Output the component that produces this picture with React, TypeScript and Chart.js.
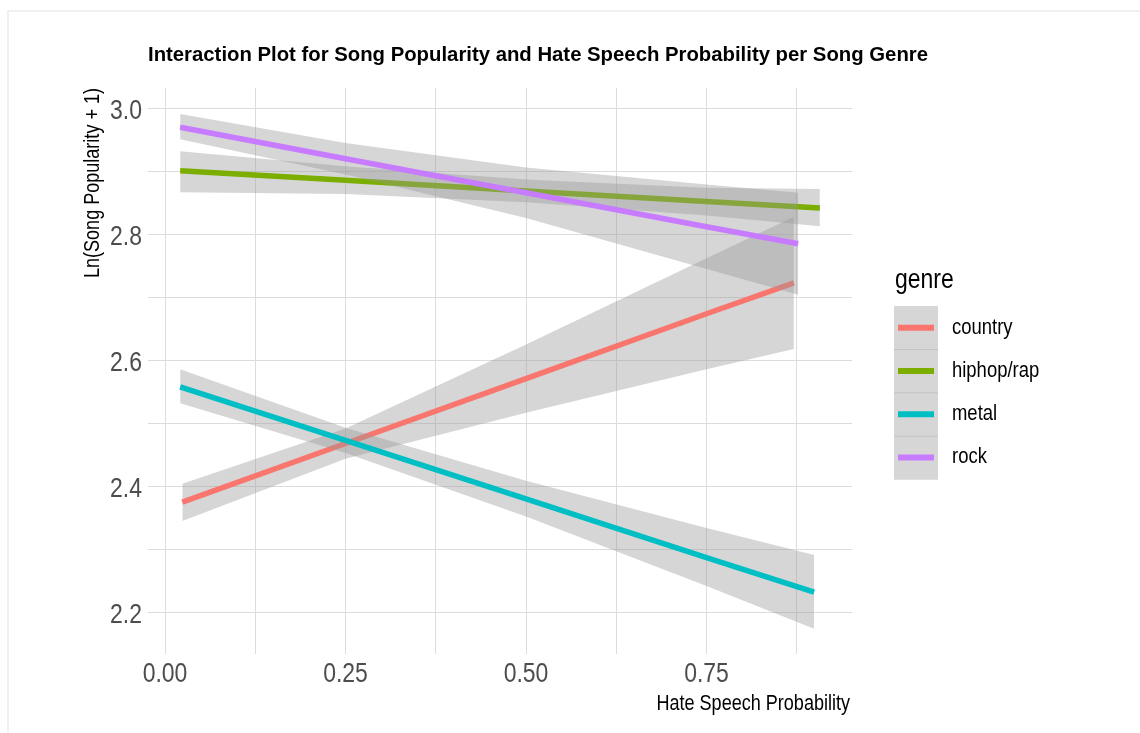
import React, { useEffect, useRef } from 'react';
import { Chart, registerables } from 'chart.js';

Chart.register(...registerables);

// ---------- data ----------
const genres = ['country', 'hiphop/rap', 'metal', 'rock'];
const genreColors = ['#F8766D', '#7CAE00', '#00BFC4', '#C77CFF'];

const countryX = [0.024, 0.25, 0.5, 0.75, 0.871];
const countryFit = [2.376, 2.469, 2.572, 2.675, 2.724];
const countryLow = [2.346, 2.445, 2.518, 2.587, 2.619];
const countryHigh = [2.405, 2.493, 2.626, 2.763, 2.829];

const hiphopX = [0.021, 0.25, 0.5, 0.75, 0.907];
const hiphopFit = [2.902, 2.887, 2.87, 2.853, 2.843];
const hiphopLow = [2.868, 2.865, 2.852, 2.831, 2.814];
const hiphopHigh = [2.933, 2.909, 2.888, 2.875, 2.873];

const metalX = [0.021, 0.25, 0.5, 0.75, 0.899];
const metalFit = [2.559, 2.474, 2.381, 2.288, 2.233];
const metalLow = [2.533, 2.454, 2.353, 2.243, 2.175];
const metalHigh = [2.587, 2.494, 2.41, 2.335, 2.292];

const rockX = [0.021, 0.25, 0.5, 0.75, 0.877];
const rockFit = [2.971, 2.921, 2.867, 2.813, 2.786];
const rockLow = [2.952, 2.896, 2.827, 2.746, 2.705];
const rockHigh = [2.992, 2.946, 2.907, 2.88, 2.867];

const xTicks = [0, 0.125, 0.25, 0.375, 0.5, 0.625, 0.75, 0.875];
const xTickLabels = ['0.00', '', '0.25', '', '0.50', '', '0.75', ''];
const yTicks = [2.2, 2.3, 2.4, 2.5, 2.6, 2.7, 2.8, 2.9, 3.0];
const yTickLabels = ['2.2', '', '2.4', '', '2.6', '', '2.8', '', '3.0'];

const chartTitle = 'Interaction Plot for Song Popularity and Hate Speech Probability per Song Genre';
const xTitle = 'Hate Speech Probability';
const yTitle = 'Ln(Song Popularity + 1)';
const legendTitle = 'genre';

// ---------- styling ----------
const SANS = '"Liberation Sans", Arial, Helvetica, sans-serif';
const NARROW_X = 0.82; // horizontal squeeze (narrow-font look)
const RIBBON = 'rgba(153,153,153,0.4)';
const GRID = '#DCDCDC';

const series = [
  { x: countryX, fit: countryFit, low: countryLow, high: countryHigh },
  { x: hiphopX, fit: hiphopFit, low: hiphopLow, high: hiphopHigh },
  { x: metalX, fit: metalFit, low: metalLow, high: metalHigh },
  { x: rockX, fit: rockFit, low: rockLow, high: rockHigh },
];

const pts = (xs: number[], ys: number[]) => xs.map((x, i) => ({ x, y: ys[i] }));

function drawText(
  ctx: CanvasRenderingContext2D,
  text: string,
  x: number,
  y: number,
  font: string,
  color: string,
  align: CanvasTextAlign,
  sx: number = NARROW_X,
  rotation = 0,
) {
  ctx.save();
  ctx.translate(x, y);
  if (rotation) ctx.rotate(rotation);
  ctx.scale(sx, 1);
  ctx.font = font;
  ctx.fillStyle = color;
  ctx.textAlign = align;
  ctx.textBaseline = 'alphabetic';
  ctx.fillText(text, 0, 0);
  ctx.restore();
}

const decorPlugin = {
  id: 'ggDecor',
  afterDraw(chart: any) {
    const ctx: CanvasRenderingContext2D = chart.ctx;
    const xs = chart.scales.x;
    const ys = chart.scales.y;
    const area = chart.chartArea;

    // tick labels
    const tickFont = `28px ${SANS}`;
    xTicks.forEach((v, i) => {
      if (!xTickLabels[i]) return;
      drawText(ctx, xTickLabels[i], xs.getPixelForValue(v), 682, tickFont, '#4D4D4D', 'center');
    });
    yTicks.forEach((v, i) => {
      if (!yTickLabels[i]) return;
      drawText(ctx, yTickLabels[i], area.left - 6, ys.getPixelForValue(v) + 10, tickFont, '#4D4D4D', 'right');
    });

    // axis titles
    drawText(ctx, xTitle, area.right - 2, 710, `22px ${SANS}`, '#000', 'right');
    drawText(ctx, yTitle, 99, area.top, `22px ${SANS}`, '#000', 'right', NARROW_X, -Math.PI / 2);

    // title (fit to its width in the reference layout)
    ctx.save();
    ctx.font = `bold 21px ${SANS}`;
    const w = ctx.measureText(chartTitle).width;
    ctx.restore();
    const titleSx = w > 0 ? 780 / w : NARROW_X;
    drawText(ctx, chartTitle, area.left, 61, `bold 21px ${SANS}`, '#000', 'left', titleSx);

    // legend
    drawText(ctx, legendTitle, 895, 288, `28px ${SANS}`, '#000', 'left');
    const keyX = 894;
    const keyW = 44;
    const keyTop = 306;
    const keyH = 43.25;
    ctx.save();
    genres.forEach((g, i) => {
      const top = keyTop + i * keyH;
      ctx.fillStyle = RIBBON;
      ctx.fillRect(keyX, top, keyW, keyH + 0.75);
      const cy = top + keyH / 2;
      ctx.strokeStyle = genreColors[i];
      ctx.lineWidth = 6;
      ctx.lineCap = 'butt';
      ctx.beginPath();
      ctx.moveTo(keyX + 4, cy);
      ctx.lineTo(keyX + keyW - 4, cy);
      ctx.stroke();
      drawText(ctx, g, 952, cy + 6, `22.5px ${SANS}`, '#000', 'left');
    });
    ctx.restore();
  },
};

export default function App() {
  const canvasRef = useRef<HTMLCanvasElement | null>(null);

  useEffect(() => {
    if (!canvasRef.current) return;
    const datasets: any[] = [];
    series.forEach((s, k) => {
      datasets.push({
        label: genres[k] + ' upper',
        data: pts(s.x, s.high),
        borderWidth: 0,
        pointRadius: 0,
        fill: false,
        order: 100 - 10 * k,
      });
      datasets.push({
        label: genres[k] + ' lower',
        data: pts(s.x, s.low),
        borderWidth: 0,
        pointRadius: 0,
        backgroundColor: RIBBON,
        fill: '-1',
        order: 99 - 10 * k,
      });
      datasets.push({
        label: genres[k],
        data: pts(s.x, s.fit),
        borderColor: genreColors[k],
        borderWidth: 5.5,
        pointRadius: 0,
        fill: false,
        order: 98 - 10 * k,
      });
    });

    const chart = new Chart(canvasRef.current, {
      type: 'line',
      data: { datasets },
      options: {
        responsive: false,
        animation: false,
        layout: { padding: { left: 0, top: 88, right: 288, bottom: 0 } },
        plugins: {
          legend: { display: false },
          tooltip: { enabled: false },
          title: { display: false },
          filler: { drawTime: 'beforeDatasetDraw' },
        } as any,
        scales: {
          x: {
            type: 'linear',
            min: -0.02355,
            max: 0.9515,
            afterFit: (s: any) => {
              s.height = 79;
            },
            afterBuildTicks: (s: any) => {
              s.ticks = xTicks.map((v) => ({ value: v }));
            },
            ticks: { display: false },
            grid: { color: GRID, lineWidth: 1, drawTicks: false },
            border: { display: false },
            title: { display: false },
          },
          y: {
            type: 'linear',
            min: 2.1349,
            max: 3.0333,
            afterFit: (s: any) => {
              s.width = 148;
            },
            afterBuildTicks: (s: any) => {
              s.ticks = yTicks.map((v) => ({ value: v }));
            },
            ticks: { display: false },
            grid: { color: GRID, lineWidth: 1, drawTicks: false },
            border: { display: false },
            title: { display: false },
          },
        },
      } as any,
      plugins: [decorPlugin],
    });
    return () => chart.destroy();
  }, []);

  return (
    <div style={{ position: 'fixed', left: 0, top: 0, width: 1140, height: 733, background: '#fff' }}>
      <div
        style={{
          position: 'absolute',
          left: 7,
          top: 10,
          right: 0,
          bottom: 0,
          borderLeft: '2px solid #F0F0F0',
          borderTop: '2px solid #F0F0F0',
        }}
      />
      <canvas ref={canvasRef} width={1140} height={733} style={{ position: 'absolute', left: 0, top: 0 }} />
    </div>
  );
}
